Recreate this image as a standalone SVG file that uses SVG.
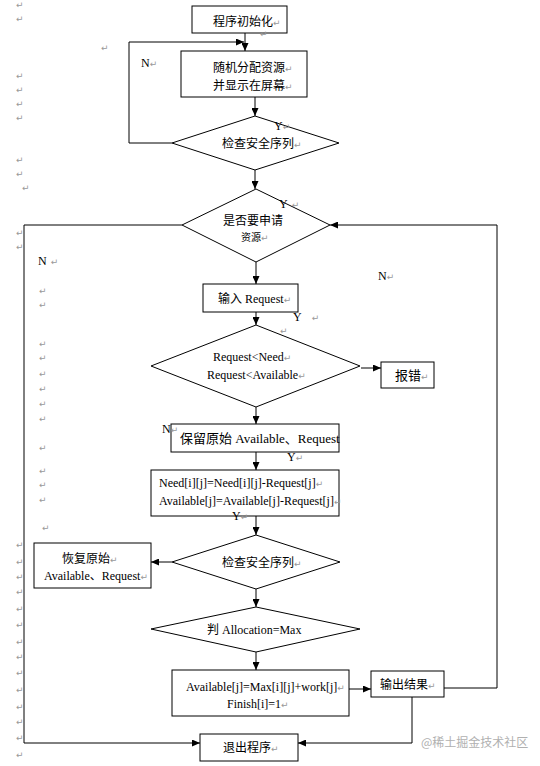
<svg xmlns="http://www.w3.org/2000/svg" width="540" height="766" viewBox="0 0 540 766">
<style>
.bx{fill:#fff;stroke:#000;stroke-width:1}
.ln{fill:none;stroke:#000;stroke-width:1}
.cn{font-family:"Noto Sans CJK SC",sans-serif;font-size:12px;fill:#000}
.lt{font-family:"Liberation Serif","Noto Sans CJK SC",serif;font-size:12px;fill:#000}
.pm{font-family:"DejaVu Sans",sans-serif;font-size:9px;fill:#999}
.wm{font-family:"Noto Sans CJK SC",sans-serif;font-size:12px;fill:#b0b0b0}
</style>
<defs>
<marker id="ar" markerUnits="userSpaceOnUse" markerWidth="8" markerHeight="7" refX="8" refY="3.5" orient="auto">
<path d="M0,0 L8,3.5 L0,7 z" fill="#000"/>
</marker>
</defs>
<rect width="540" height="766" fill="#fff"/>

<g id="connectors">
<path class="ln" d="M245,33 V51" marker-end="url(#ar)"/>
<path class="ln" d="M172,143 H129 V42 H244" marker-end="url(#ar)"/>
<path class="ln" d="M255,97 V116" marker-end="url(#ar)"/>
<path class="ln" d="M255,170 V189" marker-end="url(#ar)"/>
<path class="ln" d="M182,225 H24 V743 H200" marker-end="url(#ar)"/>
<path class="ln" d="M444,688 H497 V225 H330" marker-end="url(#ar)"/>
<path class="ln" d="M256,262 V284" marker-end="url(#ar)"/>
<path class="ln" d="M256,312 V325" marker-end="url(#ar)"/>
<path class="ln" d="M361,368 H381" marker-end="url(#ar)"/>
<path class="ln" d="M256,407 V424" marker-end="url(#ar)"/>
<path class="ln" d="M256,452 V470" marker-end="url(#ar)"/>
<path class="ln" d="M256,516 V535" marker-end="url(#ar)"/>
<path class="ln" d="M172,562 H151" marker-end="url(#ar)"/>
<path class="ln" d="M256,589 V607" marker-end="url(#ar)"/>
<path class="ln" d="M256,652 V670" marker-end="url(#ar)"/>
<path class="ln" d="M349,689 H371" marker-end="url(#ar)"/>
<path class="ln" d="M412,697 V743 H298" marker-end="url(#ar)"/>
</g>

<g id="n_init">
<rect class="bx" x="192" y="6" width="95" height="27"/>
<text class="cn" x="213" y="26">程序初始化<tspan class="pm">↵</tspan></text>
</g>
<g id="n_alloc">
<rect class="bx" x="181" y="51" width="126" height="46"/>
<text class="cn" x="213" y="72">随机分配资源<tspan class="pm">↵</tspan></text>
<text class="cn" x="213" y="90">并显示在屏幕<tspan class="pm">↵</tspan></text>
</g>
<g id="n_check1">
<polygon class="bx" points="255,116 339,143 255,170 172,143"/>
<text class="cn" x="222" y="148">检查安全序列<tspan class="pm">↵</tspan></text>
</g>
<g id="n_ask">
<polygon class="bx" points="256,189 330,225 256,262 182,225"/>
<text class="cn" x="223" y="225">是否要申请</text>
<text class="cn" x="241" y="241" style="font-size:10px">资源<tspan class="pm">↵</tspan></text>
</g>
<g id="n_input">
<rect class="bx" x="203" y="284" width="95" height="28"/>
<text class="lt" x="218" y="303">输入 Request<tspan class="pm">↵</tspan></text>
</g>
<g id="n_cmp">
<polygon class="bx" points="256,325 360,366 256,407 151,366"/>
<text class="lt" x="213" y="361">Request&lt;Need<tspan class="pm">↵</tspan></text>
<text class="lt" x="207" y="379">Request&lt;Available<tspan class="pm">↵</tspan></text>
</g>
<g id="n_err">
<rect class="bx" x="381" y="362" width="53" height="26"/>
<text class="cn" x="395" y="380" style="font-size:13px">报错<tspan class="pm">↵</tspan></text>
</g>
<g id="n_save">
<rect class="bx" x="171" y="424" width="168" height="28"/>
<text class="lt" x="180" y="443" style="font-size:13px">保留原始 Available、Request</text>
</g>
<g id="n_update">
<rect class="bx" x="151" y="470" width="188" height="46"/>
<text class="lt" x="159" y="487">Need[i][j]=Need[i][j]-Request[j]<tspan class="pm">↵</tspan></text>
<text class="lt" x="159" y="505">Available[j]=Available[j]-Request[j]<tspan class="pm">↵</tspan></text>
</g>
<g id="n_check2">
<polygon class="bx" points="256,535 340,562 256,589 172,562"/>
<text class="cn" x="222" y="567">检查安全序列<tspan class="pm">↵</tspan></text>
</g>
<g id="n_restore">
<rect class="bx" x="34" y="543" width="117" height="45"/>
<text class="cn" x="62" y="563">恢复原始<tspan class="pm">↵</tspan></text>
<text class="lt" x="44" y="580">Available、Request<tspan class="pm">↵</tspan></text>
</g>
<g id="n_judge">
<polygon class="bx" points="256,607 360,629 256,652 151,629"/>
<text class="lt" x="207" y="634">判 Allocation=Max</text>
</g>
<g id="n_release">
<rect class="bx" x="172" y="670" width="177" height="46"/>
<text class="lt" x="186" y="691">Available[j]=Max[i][j]+work[j]<tspan class="pm">↵</tspan></text>
<text class="lt" x="227" y="708">Finish[i]=1<tspan class="pm">↵</tspan></text>
</g>
<g id="n_output">
<rect class="bx" x="371" y="671" width="73" height="26"/>
<text class="cn" x="380" y="689">输出结果<tspan class="pm">↵</tspan></text>
</g>
<g id="n_exit">
<rect class="bx" x="200" y="734" width="98" height="27"/>
<text class="cn" x="223" y="752">退出程序<tspan class="pm">↵</tspan></text>
</g>

<g id="labels">
<text class="lt" x="141" y="67">N<tspan class="pm">↵</tspan></text>
<text class="lt" x="274" y="130">Y<tspan class="pm">↵</tspan></text>
<text class="lt" x="279" y="208">Y<tspan class="pm" dx="4">↵</tspan></text>
<text class="lt" x="38" y="265">N<tspan class="pm" dx="4">↵</tspan></text>
<text class="lt" x="378" y="280">N<tspan class="pm">↵</tspan></text>
<text class="lt" x="293" y="321">Y<tspan class="pm" dx="10">↵</tspan></text>
<text class="lt" x="162" y="433">N<tspan class="pm">↵</tspan></text>
<text class="lt" x="287" y="461">Y<tspan class="pm">↵</tspan></text>
<text class="lt" x="232" y="520">Y<tspan class="pm">↵</tspan></text>
</g>

<g id="marks" class="pm">
<text x="16" y="8">↵</text>
<text x="16" y="22">↵</text>
<text x="101" y="51">↵</text>
<text x="260" y="37">↵</text>
<text x="16" y="79">↵</text>
<text x="16" y="93">↵</text>
<text x="16" y="107">↵</text>
<text x="16" y="121">↵</text>
<text x="16" y="163">↵</text>
<text x="16" y="177">↵</text>
<text x="22" y="191">↵</text>
<text x="16" y="236">↵</text>
<text x="16" y="250">↵</text>
<text x="39" y="294">↵</text>
<text x="39" y="308">↵</text>
<text x="280" y="334">↵</text>
<text x="39" y="347">↵</text>
<text x="39" y="361">↵</text>
<text x="39" y="377">↵</text>
<text x="39" y="392">↵</text>
<text x="39" y="407">↵</text>
<text x="39" y="422">↵</text>
<text x="39" y="451">↵</text>
<text x="39" y="474">↵</text>
<text x="39" y="488">↵</text>
<text x="39" y="503">↵</text>
<text x="42" y="531">↵</text>
<text x="16" y="548">↵</text>
<text x="16" y="565">↵</text>
<text x="16" y="580">↵</text>
<text x="16" y="595">↵</text>
<text x="16" y="612">↵</text>
<text x="16" y="628">↵</text>
<text x="16" y="645">↵</text>
<text x="16" y="660">↵</text>
<text x="16" y="676">↵</text>
<text x="16" y="693">↵</text>
<text x="16" y="710">↵</text>
<text x="16" y="725">↵</text>
<text x="16" y="741">↵</text>
<text x="16" y="758">↵</text>
</g>

<text class="wm" x="421" y="747">@稀土掘金技术社区</text>
</svg>
